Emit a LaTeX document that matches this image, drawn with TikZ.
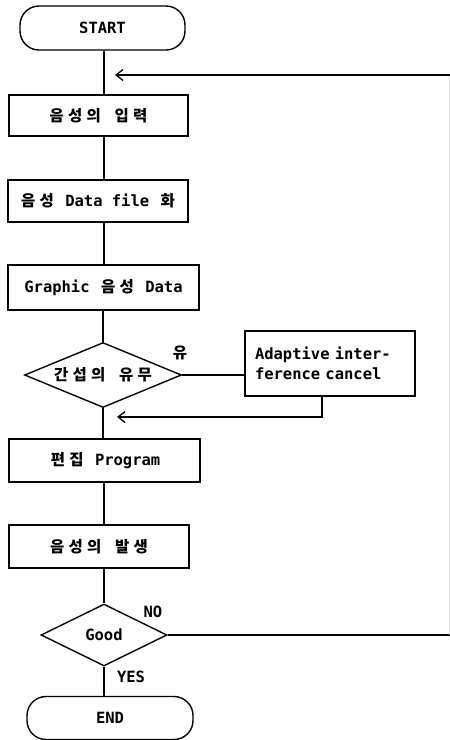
\documentclass[tikz,border=0pt]{standalone}
\usepackage{fontspec}
\setmainfont{DejaVu Sans Mono}
\newfontfamily\kr{Noto Sans CJK KR}
\usetikzlibrary{shapes.geometric,arrows.meta}
% one Hangul syllable in a double-width cell
\newcommand\K[1]{\makebox[18.5pt]{\kr\bfseries #1}}
\begin{document}
\begin{tikzpicture}[x=1pt,y=-1pt,
  font=\fontsize{15.5}{20}\selectfont\bfseries,
  box/.style={draw, line width=1.4pt, rectangle, inner sep=0pt},
  term/.style={box, rounded corners=19pt},
  decision/.style={draw, line width=1.4pt, diamond, inner sep=0pt, aspect=2.4},
  flow/.style={line width=1.4pt},
  back/.style={flow, -{Straight Barb[length=7pt,width=11pt,line width=1.3pt]}},
  lbl/.style={inner sep=0pt}]
\useasboundingbox (0,0) rectangle (450,740);

% main column
\node[term, minimum width=165pt, minimum height=44pt] (start) at (102.5,28) {START};
\node[box, minimum width=179pt, minimum height=41pt] (in) at (98.5,115.5) {\K{음}\K{성}\K{의} \K{입}\K{력}};
\node[box, minimum width=180pt, minimum height=42pt] (file) at (98,201) {\K{음}\K{성} Data file \K{화}};
\node[box, minimum width=191pt, minimum height=45pt] (graph) at (103.5,287.5) {Graphic \K{음}\K{성} Data};
\node[decision, minimum width=157pt, minimum height=65pt] (intf) at (103,375) {\K{간}\K{섭}\K{의} \K{유}\K{무}};
\node[box, minimum width=170pt, minimum height=65pt, text width=150pt, align=left] (aic) at (330,363.5) {Adaptive inter-\\ference cancel};
\node[box, minimum width=191pt, minimum height=43pt] (edit) at (104.5,460.5) {\K{편}\K{집} Program};
\node[box, minimum width=180pt, minimum height=43pt] (voice) at (99,546.5) {\K{음}\K{성}\K{의} \K{발}\K{생}};
\node[decision, minimum width=126pt, minimum height=62pt] (good) at (104,635) {Good};
\node[term, minimum width=166pt, minimum height=43pt] (end) at (110,718) {END};

% branch labels
\node[lbl] (yu) at (180,353) {\K{유}};
\node[lbl] (no) at (153,612) {NO};
\node[lbl] (yes) at (131,677) {YES};

% helper coordinates
\coordinate (spine) at (104,0);
\coordinate (redge) at (449.5,0);
\coordinate (loopin) at (115,75);
\coordinate (loopout) at (117,417);

% forward flow
\draw[flow] (start.south -| spine) -- (in.north -| spine);
\draw[flow] (in.south -| spine) -- (file.north -| spine);
\draw[flow] (file.south -| spine) -- (graph.north -| spine);
\draw[flow] (graph.south -| intf) -- (intf.north);
\draw[flow] (intf.east) -- (intf.east -| aic.west);
\draw[flow] (intf.south) -- (intf.south |- edit.north);
\draw[flow] (edit.south -| spine) -- (voice.north -| spine);
\draw[flow] (voice.south -| good) -- (good.north);
\draw[flow] (good.south) -- (good.south |- end.north);

% return paths
\draw[back] ([xshift=-8pt]aic.south) |- (loopout);
\draw[flow] (good.east) -- (good.east -| redge);
\draw[black!15, line width=0.8pt] (good.east -| redge) -- (redge |- loopin);
\draw[back] (redge |- loopin) -- (loopin);
\end{tikzpicture}
\end{document}
